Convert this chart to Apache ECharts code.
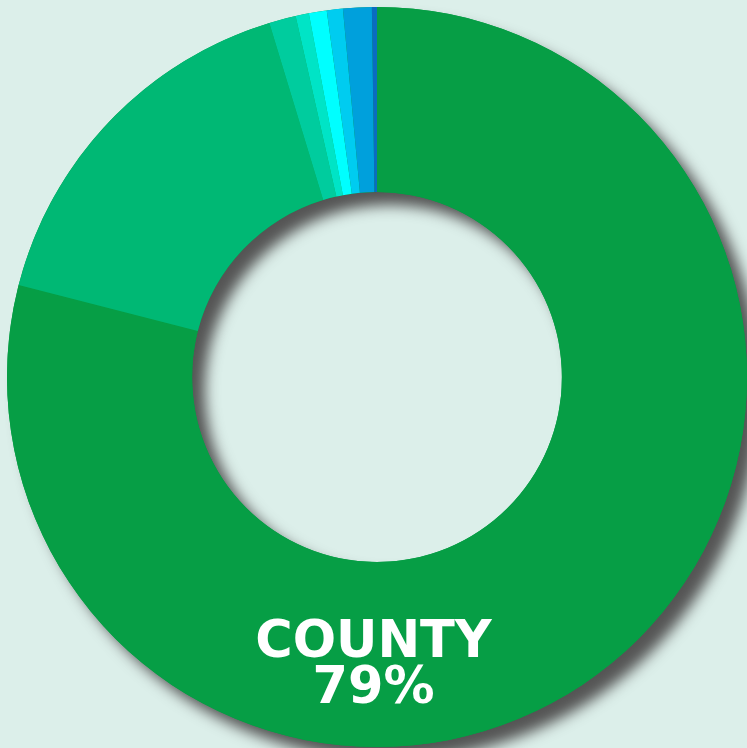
<!DOCTYPE html>
<html>
<head>
<meta charset="utf-8">
<script src="https://cdn.jsdelivr.net/npm/echarts@6/dist/echarts.min.js"></script>
<style>
  html,body{margin:0;padding:0;background:#dcefea;}
  #chart{width:747px;height:748px;}
</style>
</head>
<body>
<div id="chart"></div>
<script>
const names=['COUNTY','STATE','FEDERAL','CITY','SCHOOL','SPECIAL','OTHER','MISC'];
const values=[79,16.3,1.17,0.58,0.78,0.7,1.25,0.22];
const colors=['#069e45','#00b874','#00cc9e','#00e4c6','#00ffff','#00ccf0','#00a0dc','#0a6cc0'];

const chartDom=document.getElementById('chart');
const myChart=echarts.init(chartDom);

const total=values.reduce((a,b)=>a+b,0);

const option={
    backgroundColor:'#dcefea',
    animation:false,
    series:[
        {
            // one ring underneath just for the drop shadow
            type:'pie',
            z:1,
            silent:true,
            center:[377,377],
            radius:[185,370],
            label:{show:false},
            labelLine:{show:false},
            itemStyle:{
                color:colors[0],
                borderWidth:0,
                shadowColor:'#555555',
                shadowBlur:14,
                shadowOffsetX:13,
                shadowOffsetY:13
            },
            data:[{name:'all',value:total}]
        },
        {
            type:'pie',
            z:2,
            center:[377,377],
            radius:[185,370],
            startAngle:90,
            clockwise:true,
            label:{show:false},
            labelLine:{show:false},
            emphasis:{disabled:true},
            itemStyle:{borderWidth:0},
            data:names.map((n,i)=>({name:n,value:values[i],itemStyle:{color:colors[i]}}))
        }
    ],
    graphic:[
        {
            type:'text',
            z:100,
            left:'center',
            top:618,
            style:{
                text:names[0]+'\n'+Math.round(values[0])+'%',
                fill:'#ffffff',
                fontFamily:'DejaVu Sans',
                fontWeight:'bold',
                fontSize:51,
                lineHeight:46,
                textAlign:'center'
            }
        }
    ]
};

myChart.setOption(option);
</script>
</body>
</html>
